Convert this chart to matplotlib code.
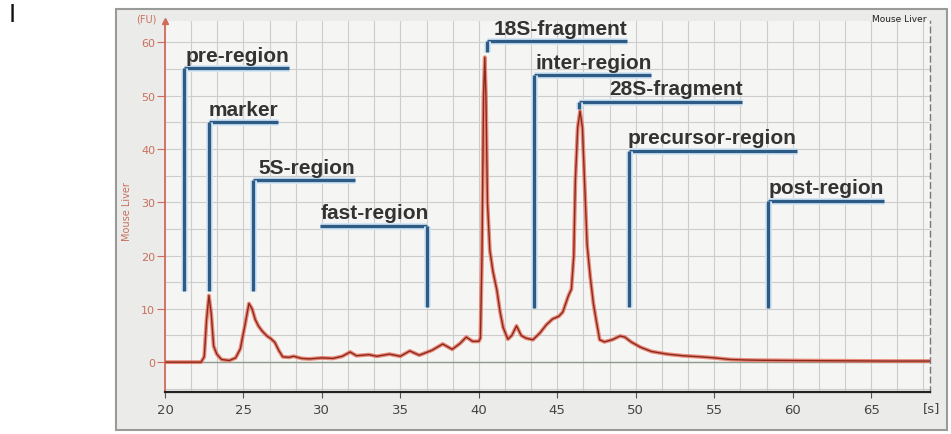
import numpy as np
import matplotlib
matplotlib.use("Agg")
import matplotlib.pyplot as plt
import matplotlib.patheffects as pe
from matplotlib.patches import Rectangle

# electropherogram trace
time_s = [20.0, 21.0, 22.0, 22.3, 22.5, 22.65, 22.8, 22.95, 23.1, 23.3, 23.6, 24.1,
          24.5, 24.8, 25.1, 25.35, 25.55, 25.75, 25.95, 26.2, 26.5, 26.75, 27.0, 27.25,
          27.5, 27.9, 28.2, 28.7, 29.2, 30.0, 30.7, 31.3, 31.8, 32.2, 33.0, 33.5,
          34.3, 35.0, 35.6, 36.2, 37.0, 37.7, 38.3, 38.8, 39.2, 39.6, 40.0, 40.1,
          40.2, 40.3, 40.38, 40.45, 40.55, 40.7, 40.9, 41.15, 41.35, 41.55, 41.85, 42.1,
          42.4, 42.7, 43.0, 43.45, 43.9, 44.3, 44.7, 45.1, 45.35, 45.7, 45.9, 46.05,
          46.15, 46.3, 46.45, 46.6, 46.75, 46.9, 47.1, 47.3, 47.5, 47.7, 48.0, 48.5,
          49.0, 49.3, 49.7, 50.3, 51.0, 52.0, 53.0, 54.1, 55.0, 56.0, 57.0, 58.0,
          60.0, 63.0, 66.0, 68.75]
fu = [0.0, 0.0, 0.0, 0.0, 1.0, 8.0, 12.5, 9.0, 3.0, 1.5, 0.5, 0.3,
      0.8, 2.5, 7.0, 11.0, 10.0, 8.0, 6.8, 5.8, 4.9, 4.4, 3.7, 2.2,
      1.0, 0.9, 1.1, 0.7, 0.6, 0.8, 0.7, 1.1, 1.9, 1.2, 1.4, 1.1,
      1.5, 1.1, 2.1, 1.3, 2.2, 3.4, 2.4, 3.5, 4.7, 3.9, 3.9, 4.5,
      20.0, 50.0, 57.2, 50.0, 30.0, 21.0, 17.0, 13.5, 9.5, 6.5, 4.3, 5.0,
      6.8, 5.0, 4.5, 4.2, 5.5, 7.0, 8.1, 8.6, 9.4, 12.4, 13.7, 20.0,
      34.0, 44.0, 47.1, 44.0, 33.0, 22.0, 16.0, 11.0, 7.5, 4.2, 3.8, 4.2,
      4.9, 4.7, 3.8, 2.8, 2.0, 1.5, 1.2, 1.0, 0.8, 0.5, 0.4, 0.35,
      0.3, 0.25, 0.2, 0.2]

# region markers
region_names = ["pre-region", "marker", "5S-region", "fast-region", "18S-fragment",
                "inter-region", "28S-fragment", "precursor-region", "post-region"]
region_start = [21.2, 22.8, 25.6, 29.9, 40.52, 43.5, 46.4, 49.55, 58.4]
region_end = [27.9, 27.2, 32.1, 36.7, 49.45, 51.0, 56.8, 60.25, 65.8]
region_top = [55.1, 45.0, 34.1, 25.5, 60.2, 53.8, 48.8, 39.6, 30.2]
region_bottom = [13.3, 13.3, 13.3, 10.3, 58.1, 10.1, 47.4, 10.3, 10.1]
region_side = ["left", "left", "left", "right", "left", "left", "left", "left", "left"]

x_ticks = [20, 25, 30, 35, 40, 45, 50, 55, 60, 65]
y_ticks = [0, 10, 20, 30, 40, 50, 60]

fig = plt.figure(figsize=(9.51, 4.35), dpi=100)
fig.patch.set_facecolor("white")

# gray instrument panel behind the plot
fig.add_artist(Rectangle((0.122, 0.009), 0.874, 0.968, transform=fig.transFigure,
                         facecolor="#ebebe9", edgecolor="#9a9a9a", lw=1.5, zorder=0))

ax = fig.add_axes([0.1735, 0.0966, 0.8044, 0.8528])
ax.set_facecolor("#f5f5f3")
ax.set_xlim(20, 68.75)
ax.set_ylim(-5.6, 64)

# grid
for gx in np.arange(20, 68.8, 5 / 3):
    ax.axvline(gx, color="#cdcdcd", lw=0.8, zorder=1)
for gy in np.arange(-5, 64, 5):
    ax.axhline(gy, color="#cdcdcd", lw=0.8, zorder=1)
ax.axhline(0, color="#8f9c8f", lw=1.0, zorder=1)

# trace
ax.plot(time_s, fu, color="#e8705c", lw=2.8, alpha=0.8, zorder=3, solid_joinstyle="round")
ax.plot(time_s, fu, color="#8a2a1e", lw=1.0, zorder=4, solid_joinstyle="round")

# region brackets
halo = [pe.Stroke(linewidth=5, foreground="#d4e6f5"), pe.Normal()]
for name, x0, x1, top, bot, side in zip(region_names, region_start, region_end,
                                        region_top, region_bottom, region_side):
    vx = x0 if side == "left" else x1
    ax.plot([x0, x1], [top, top], color="#2c5b85", lw=2.4, zorder=5,
            solid_capstyle="butt", path_effects=halo)
    ax.plot([vx, vx], [top, bot], color="#2c5b85", lw=2.4, zorder=5,
            solid_capstyle="butt", path_effects=halo)
    if side == "left":
        ax.text(x1, top + 0.7, name, ha="right", va="bottom", fontsize=15,
                fontweight="bold", family="Liberation Sans", color="#333333", zorder=6)
    else:
        ax.text(x0, top + 0.7, name, ha="left", va="bottom", fontsize=15,
                fontweight="bold", family="Liberation Sans", color="#333333", zorder=6)

# axes styling
ax.spines["top"].set_visible(False)
ax.spines["left"].set_color("#d36b5b")
ax.spines["left"].set_linewidth(1.3)
ax.spines["bottom"].set_color("#222222")
ax.spines["bottom"].set_linewidth(1.6)
ax.spines["right"].set_color("#777777")
ax.spines["right"].set_linestyle((0, (4, 3)))
ax.spines["right"].set_linewidth(1.0)

ax.set_xticks(x_ticks)
ax.set_xticklabels([str(t) for t in x_ticks])
ax.set_yticks(y_ticks)
ax.set_yticklabels([str(t) for t in y_ticks])
ax.tick_params(axis="x", direction="out", length=4, color="#555555", labelsize=9.5,
               labelcolor="#444444", pad=4)
ax.tick_params(axis="y", direction="out", length=6, color="#d36b5b", labelsize=8,
               labelcolor="#c8705e", pad=1)

ax.plot([20], [64], marker="^", color="#d36b5b", markersize=5, clip_on=False, zorder=7)

fig.text(146 / 951, 1 - 19 / 435, "(FU)", fontsize=7, color="#c8705e",
         ha="center", va="center")
fig.text(127 / 951, 1 - 212 / 435, "Mouse Liver", fontsize=7, color="#c8705e",
         rotation=90, ha="center", va="center")
fig.text(927 / 951, 1 - 19 / 435, "Mouse Liver", fontsize=6.5, color="#222222",
         ha="right", va="center")
fig.text(932 / 951, 1 - 409 / 435, "[s]", fontsize=9.5, color="#444444",
         ha="center", va="center")
fig.text(12 / 951, 1 - 15 / 435, "I", fontsize=17, color="#111111",
         ha="center", va="center")

fig.savefig("out.png", dpi=100)
